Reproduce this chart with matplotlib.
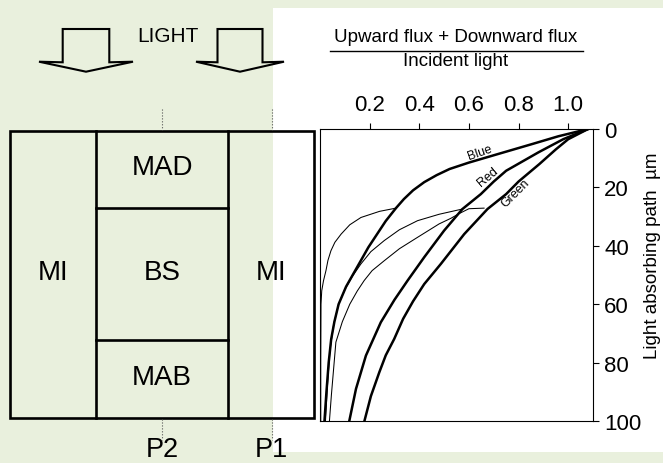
import matplotlib
matplotlib.use("Agg")
import matplotlib.pyplot as plt
from matplotlib.patches import Rectangle, Polygon

plt.rcParams['font.family'] = ['Liberation Sans', 'DejaVu Sans']

# --- data (flux ratio vs depth in um) ---
blue_flux = [1.08, 0.96, 0.857, 0.696, 0.60, 0.522, 0.47, 0.42, 0.375, 0.338, 0.306, 0.265,
             0.23, 0.195, 0.165, 0.135, 0.105, 0.075, 0.058, 0.045, 0.035, 0.026, 0.018]
blue_depth = [0, 2.5, 5.1, 9.1, 11.5, 13.7, 15.8, 18.2, 21, 24, 27.1, 31.5,
              36, 40.5, 45, 49.5, 54, 60, 66, 72, 80, 90, 100]

red_flux = [1.08, 0.98, 0.88, 0.75, 0.70, 0.648, 0.574, 0.5, 0.42, 0.353, 0.30,
            0.245, 0.185, 0.145, 0.118]
red_depth = [0, 3.5, 8, 14.3, 18, 22.3, 27.4, 34.8, 43.9, 51.9, 58.5,
             66.2, 77.6, 89, 100]

green_flux = [1.08, 1.0, 0.95, 0.884, 0.80, 0.75, 0.675, 0.581, 0.487, 0.42, 0.375,
              0.335, 0.299, 0.265, 0.239, 0.205, 0.179]
green_depth = [0, 3.5, 7, 12, 18, 22.3, 27.4, 36, 46.2, 53.1, 59,
               65, 71.9, 77.5, 83.3, 91.5, 100]

# thin curves (branching off at the MAD / BS boundary)
blue_p2_flux = [0.306, 0.24, 0.165, 0.12, 0.085, 0.06, 0.044, 0.032, 0.024, 0.014,
                0.007, 0.004, 0.003, 0.003]
blue_p2_depth = [27.1, 28.2, 30.3, 32.8, 36, 38.8, 41.7, 45, 48.5, 52,
                 55.4, 60, 80, 100]

red_p2_flux = [0.574, 0.48, 0.393, 0.32, 0.259, 0.205, 0.165, 0.13, 0.10, 0.075,
               0.055, 0.04, 0.03, 0.022]
red_p2_depth = [27.4, 29.2, 31.4, 34.5, 38.2, 42, 46.2, 50.5, 55, 60,
                67, 76, 88, 100]

green_p2_flux = [0.661, 0.60, 0.56, 0.527, 0.48, 0.393, 0.32, 0.259, 0.21, 0.178,
                 0.15, 0.12, 0.09, 0.064, 0.055, 0.046, 0.038]
green_p2_depth = [27.1, 27.3, 29.0, 30.6, 32.5, 37.1, 41, 45.1, 48.5, 51.9,
                  55.5, 60, 66, 73, 82, 91, 100]

x_ticks = [0.2, 0.4, 0.6, 0.8, 1.0]
x_ticklabels = ['0.2', '0.4', '0.6', '0.8', '1.0']
y_ticks = [0, 20, 40, 60, 80, 100]

bg = '#e9f0dd'
W, H = 663, 464

fig = plt.figure(figsize=(W / 100, H / 100), dpi=100, facecolor=bg)

# overlay in pixel coordinates for the schematic
over = fig.add_axes([0, 0, 1, 1], zorder=0)
over.set_xlim(0, W)
over.set_ylim(H, 0)
over.axis('off')
over.add_patch(Rectangle((273, 9), W - 273, 444, facecolor='white', edgecolor='none'))

# leaf cross-section
lw_box = 1.9
over.add_patch(Rectangle((9.5, 131.5), 304.5, 287.5, fill=False, lw=lw_box, ec='black'))
over.plot([95.7, 95.7], [131.5, 419], color='black', lw=lw_box)
over.plot([228, 228], [131.5, 419], color='black', lw=lw_box)
over.plot([95.7, 228], [209, 209], color='black', lw=lw_box)
over.plot([95.7, 228], [340.7, 340.7], color='black', lw=lw_box)

fs_box = 20
over.text(53, 273, 'MI', ha='center', va='center', fontsize=fs_box)
over.text(162, 168, 'MAD', ha='center', va='center', fontsize=fs_box)
over.text(162, 273, 'BS', ha='center', va='center', fontsize=fs_box)
over.text(162, 378, 'MAB', ha='center', va='center', fontsize=fs_box)
over.text(271, 273, 'MI', ha='center', va='center', fontsize=fs_box)

# paths P1 / P2
for xp, lab in [(162.3, 'P2'), (271.7, 'P1')]:
    over.plot([xp, xp], [110, 131], color='#555555', lw=0.8, ls=':')
    over.plot([xp, xp], [420, 441], color='#555555', lw=0.8, ls=':')
    over.text(xp, 450.5, lab, ha='center', va='center', fontsize=19.5)

# light arrows
for cx, half_stem, half_head in [(86, 23.3, 47), (240, 22.5, 44)]:
    pts = [(cx - half_stem, 30), (cx + half_stem, 30), (cx + half_stem, 63.3),
           (cx + half_head, 62.7), (cx, 72.7), (cx - half_head, 62.7),
           (cx - half_stem, 63.3)]
    over.add_patch(Polygon(pts, closed=True, fill=False, ec='black', lw=1.5,
                           joinstyle='miter'))
over.text(168, 37, 'LIGHT', ha='center', va='center', fontsize=15)

# fraction title
over.text(456, 37, 'Upward flux + Downward flux', ha='center', va='center', fontsize=13.5)
over.plot([330, 583], [52.3, 52.3], color='black', lw=1.0)
over.text(456, 62, 'Incident light', ha='center', va='center', fontsize=13.5)

# flux profile panel
ax = fig.add_axes([320 / W, (H - 422) / H, 273 / W, 292 / H], zorder=1)
ax.set_facecolor('white')

thick, thin = 1.8, 0.75
ax.plot(blue_flux, blue_depth, color='black', lw=thick)
ax.plot(red_flux, red_depth, color='black', lw=thick)
ax.plot(green_flux, green_depth, color='black', lw=thick)
ax.plot(blue_p2_flux, blue_p2_depth, color='black', lw=thin)
ax.plot(red_p2_flux, red_p2_depth, color='black', lw=thin)
ax.plot(green_p2_flux, green_p2_depth, color='black', lw=thin)

ax.text(0.645, 8.0, 'Blue', rotation=19, ha='center', va='center', fontsize=9)
ax.text(0.677, 16.3, 'Red', rotation=40, ha='center', va='center', fontsize=9)
ax.text(0.787, 21.8, 'Green', rotation=45, ha='center', va='center', fontsize=9)

ax.set_xlim(0, 1.1)
ax.set_ylim(100, 0)
ax.xaxis.tick_top()
ax.yaxis.tick_right()
ax.set_xticks(x_ticks)
ax.set_xticklabels(x_ticklabels)
ax.set_yticks(y_ticks)
ax.tick_params(axis='x', direction='out', length=4, width=0.8, labelsize=16, pad=6)
ax.tick_params(axis='y', direction='out', length=4, width=0.8, labelsize=16, pad=4)
for sp in ax.spines.values():
    sp.set_linewidth(0.8)

ax.yaxis.set_label_position('right')
ax.set_ylabel('Light absorbing path  µm', fontsize=13.5, rotation=90)
ax.yaxis.set_label_coords(1.185, 0.57)

fig.savefig('out.png', dpi=100, facecolor=fig.get_facecolor())
